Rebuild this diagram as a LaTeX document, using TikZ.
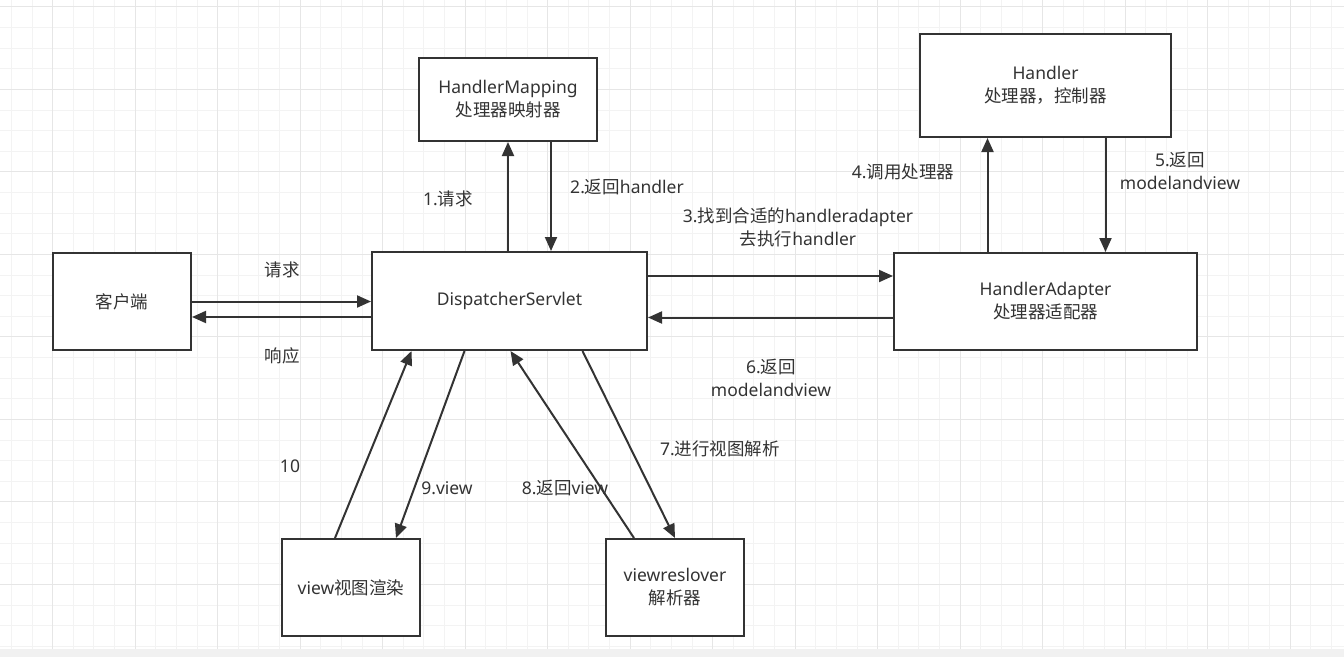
\documentclass[tikz,border=0pt]{standalone}
\usepackage{fontspec}
\setmainfont{Noto Sans}
\newfontfamily\zhfont{Noto Sans CJK SC}
\usetikzlibrary{arrows.meta,positioning}
\definecolor{mvcInk}{HTML}{333333}
\definecolor{mvcGrid}{HTML}{F3F3F3}
\definecolor{mvcGridMajor}{HTML}{E6E6E6}
\definecolor{mvcBar}{HTML}{F1F1F1}
\newcommand{\zh}[1]{{\zhfont #1}}
\tikzset{
  mvcbox/.style={draw=mvcInk,line width=2pt,fill=white,align=center,
                 text=mvcInk,inner sep=2pt,font=\fontsize{17.5}{23}\selectfont},
  mvcarrow/.style={-{Triangle[length=14pt,width=12pt]},line width=2pt,draw=mvcInk},
  mvclabel/.style={font=\fontsize{17.5}{23}\selectfont,align=center,
                   text=mvcInk,inner sep=0pt}
}

\begin{document}
\begin{tikzpicture}[x=1pt,y=-1pt]
    \useasboundingbox (0,0) rectangle (1344,657);
    % grid paper
    \foreach \gx in {11.45,32.075,...,1344}
      \draw[mvcGrid,line width=1pt] (\gx,0) -- (\gx,649);
    \foreach \gy in {6.9,27.525,...,649}
      \draw[mvcGrid,line width=1pt] (0,\gy) -- (1344,\gy);
    \foreach \gx in {52.7,135.2,...,1344}
      \draw[mvcGridMajor,line width=1pt] (\gx,0) -- (\gx,649);
    \foreach \gy in {6.9,89.4,...,649}
      \draw[mvcGridMajor,line width=1pt] (0,\gy) -- (1344,\gy);
    \fill[mvcBar] (0,649) rectangle (1344,657);

    \node[mvcbox,minimum width=178pt,minimum height=83pt] (hm) at (508,99.5)
      {HandlerMapping\\\zh{处理器映射器}};
    \node[mvcbox,minimum width=251pt,minimum height=103pt] (hd) at (1045.5,85.5)
      {Handler\\\zh{处理器，控制器}};
    \node[mvcbox,minimum width=138pt,minimum height=97pt] (cli) at (122,301.5)
      {\zh{客户端}};
    \node[mvcbox,minimum width=275pt,minimum height=98pt] (ds) at (509.5,301)
      {DispatcherServlet};
    \node[mvcbox,minimum width=303pt,minimum height=97pt] (ha) at (1045.5,301.5)
      {HandlerAdapter\\\zh{处理器适配器}};
    \node[mvcbox,minimum width=138pt,minimum height=97pt] (vw) at (351,587.5)
      {view\zh{视图渲染}};
    \node[mvcbox,minimum width=138pt,minimum height=97pt] (vr) at (675,587.5)
      {viewreslover\\\zh{解析器}};

    % client <-> dispatcher
    \draw[mvcarrow] (cli.east) -- (cli.east -| ds.west);
    \draw[mvcarrow] ([yshift=-16pt]ds.west) -- ([yshift=-16pt]ds.west -| cli.east);
    % dispatcher <-> mapping
    \draw[mvcarrow] (ds.north -| hm.south) -- (hm.south);
    \draw[mvcarrow] ([xshift=43pt]hm.south) -- ([xshift=43pt]hm.south |- ds.north);
    % dispatcher <-> adapter
    \draw[mvcarrow] ([yshift=25pt]ds.east) -- ([yshift=25pt]ds.east -| ha.west);
    \draw[mvcarrow] ([yshift=-16pt]ha.west) -- ([yshift=-16pt]ha.west -| ds.east);
    % adapter <-> handler
    \draw[mvcarrow] ([xshift=-58pt]ha.north) -- ([xshift=-58pt]ha.north |- hd.south);
    \draw[mvcarrow] ([xshift=60pt]hd.south) -- ([xshift=60pt]hd.south |- ha.north);
    % view side
    \draw[mvcarrow] ([xshift=-16pt]vw.north) -- ([xshift=-98pt]ds.south);
    \draw[mvcarrow] ([xshift=-45pt]ds.south) -- ([xshift=45pt]vw.north);
    \draw[mvcarrow] ([xshift=-41pt]vr.north) -- ([xshift=1pt]ds.south);
    \draw[mvcarrow] ([xshift=73pt]ds.south) -- (vr.north);

    % labels
    \node[mvclabel] (l1) at (448,199) {1.\zh{请求}};
    \node[mvclabel] (l2) at (627,187) {2.\zh{返回}handler};
    \node[mvclabel] (l3) at (798,227.5)
      {3.\zh{找到合适的}handleradapter\\\zh{去执行}handler};
    \node[mvclabel] (l4) at (903,172) {4.\zh{调用处理器}};
    \node[mvclabel] (l5) at (1180,171) {5.\zh{返回}\\modelandview};
    \node[mvclabel] (lq) at (282,270) {\zh{请求}};
    \node[mvclabel] (lr) at (282,356) {\zh{响应}};
    \node[mvclabel] (l6) at (771,377.5) {6.\zh{返回}\\modelandview};
    \node[mvclabel] (l7) at (720,449) {7.\zh{进行视图解析}};
    \node[mvclabel] (l10) at (290,466) {10};
    \node[mvclabel] (l9) at (447,488) {9.view};
    \node[mvclabel] (l8) at (565,488) {8.\zh{返回}view};
\end{tikzpicture}
\end{document}
